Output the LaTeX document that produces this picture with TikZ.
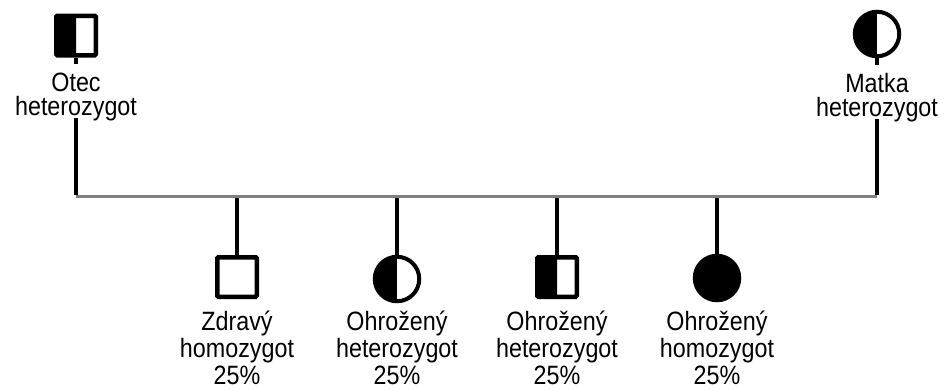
\documentclass[tikz,border=0pt]{standalone}
\usepackage{fontspec}
\setmainfont{Liberation Sans}
\newfontfamily\pedfont[FakeStretch=0.88]{Liberation Sans}
\definecolor{sibgray}{RGB}{128,128,128}
\begin{document}
\begin{tikzpicture}[x=1pt,y=-1pt,
  conn/.style={line width=4pt},
  sibline/.style={line width=3.5pt, draw=sibgray},
  lbl/.style={align=center, anchor=north, inner sep=0pt, font=\pedfont\fontsize{26.5}{24}\selectfont},
  kidlbl/.style={lbl, font=\pedfont\fontsize{26.5}{27}\selectfont},
  male/.style={rectangle, draw, fill=white, line width=4.5pt, minimum size=39.5pt, inner sep=0pt, rounded corners=1pt},
  female/.style={circle, draw, fill=white, line width=4pt, minimum size=44.5pt, inner sep=0pt},
  halfcarrier/.style={path picture={\fill[black] (path picture bounding box.south west) rectangle (path picture bounding box.north);}},
  affected/.style={fill=black}]
\useasboundingbox (0,0) rectangle (947,389);

% parents
\node[male, halfcarrier] (otec) at (76,35.5) {};
\node[female, halfcarrier] (matka) at (877,34) {};
\node[lbl] (otecL) at (76,73) {Otec\\heterozygot};
\node[lbl] (matkaL) at (877,73) {Matka\\heterozygot};

% sibship line end points
\coordinate (jL) at (76,196.5);
\coordinate (jR) at (877,196.5);

% children
\node[male] (k1) at (237,277) {};
\node[female, halfcarrier] (k2) at (397,279) {};
\node[male, halfcarrier] (k3) at (557,277) {};
\node[female, affected] (k4) at (717,278) {};

\node[kidlbl] (k1L) at (237,310.5) {Zdravý\\homozygot\\25\%};
\node[kidlbl] (k2L) at (397,310.5) {Ohrožený\\heterozygot\\25\%};
\node[kidlbl] (k3L) at (557,310.5) {Ohrožený\\heterozygot\\25\%};
\node[kidlbl] (k4L) at (717,310.5) {Ohrožený\\homozygot\\25\%};

% descent lines to the children
\foreach \k in {k1,k2,k3,k4}
  \draw[conn] (\k.north |- jL) -- (\k.north);

% sibship line
\draw[sibline] (jL) -- (jR);

% parents' lines
\draw[conn] (otec.south) -- ++(0,6);
\draw[conn] (matka.south) -- ++(0,7);
\draw[conn] ([yshift=3pt]otecL.south) -- ([yshift=1.75pt]jL);
\draw[conn] ([yshift=3pt]matkaL.south) -- ([yshift=1.75pt]jR);
\end{tikzpicture}
\end{document}
